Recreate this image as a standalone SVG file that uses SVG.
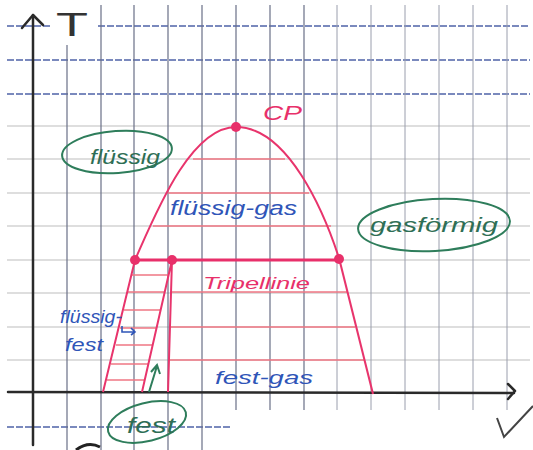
<svg xmlns="http://www.w3.org/2000/svg" width="533" height="450" viewBox="0 0 533 450">
<defs>
<style>
.gd{stroke:#4f63a8;stroke-width:1.3;stroke-dasharray:7 2;fill:none}
.gh{stroke:#bdbdbd;stroke-width:1.2;fill:none}
.gv{stroke:#6a7088;stroke-width:1.2;fill:none}
.gvl{stroke:#9a9ead;stroke-width:1;fill:none}
.ax{stroke:#2a2a2a;stroke-width:2.5;fill:none;stroke-linecap:round;stroke-linejoin:round}
.pc{stroke:#e8346c;stroke-width:2;fill:none}
.pt{stroke:#e8306a;stroke-width:3;fill:none}
.ph{stroke:#f07784;stroke-width:1.6;fill:none}
.dot{fill:#e8306a}
.gr{stroke:#2e7d5b;stroke-width:2;fill:none}
.tb{font-family:"Liberation Sans",Arial,sans-serif;font-style:italic;fill:#2f55b8}
.tg{font-family:"Liberation Sans",Arial,sans-serif;font-style:italic;fill:#2e6e55}
.tp{font-family:"Liberation Sans",Arial,sans-serif;font-style:italic;fill:#e8306a}
</style>
</defs>
<rect width="533" height="450" fill="#ffffff"/>
<g id="grid">
<path class="gd" d="M7,26H52M98,26H530M7,60H530M7,94H530M7,427H232"/>
<path class="gh" d="M7,126H530M7,159H530M7,193H530M7,226H530M7,260H530M7,293H530M7,327H530M7,360H530"/>
<path class="gv" d="M67,45V450M101,5V450M134,5V450M168,5V450M202,5V450M236,5V410M270,5V410M304,5V410"/>
<path class="gvl" d="M337,5V410M371,5V410M405,5V410M439,5V410M473,5V410M507,5V410"/>
</g>
<g id="axes">
<path class="ax" d="M33,15V445"/>
<path class="ax" d="M22,28L33,15L43,25"/>
<path class="ax" d="M8,392L514,393"/>
<path class="ax" d="M508,384L515,391L508,399"/>
<text x="56" y="36" font-family="Liberation Sans,Arial,sans-serif" font-size="34" fill="#333" textLength="32" lengthAdjust="spacingAndGlyphs">T</text>
</g>
<g id="phase-curves">
<path class="ph" d="M193,159H285M168,193H309M153,226H331"/>
<path class="ph" d="M170,292H347M170,327H355M170,360H364"/>
<path class="ph" d="M132,275H168M128,292H165M124,310H161M120,328H157M116,345H153M111,364H149M107,380H145"/>
<path class="pc" d="M135,260C155,215 190,127 236,127C288,127 324,212 339,258"/>
<path class="pc" d="M339,258L373,394"/>
<path class="pc" d="M135,260L103,392M172,260L142,392M172,260L168,392"/>
<path class="pt" d="M135,260H339"/>
<circle class="dot" cx="135" cy="260" r="5"/>
<circle class="dot" cx="172" cy="260" r="5"/>
<circle class="dot" cx="339" cy="259" r="5"/>
<circle class="dot" cx="236" cy="127" r="5"/>
</g>
<g id="node-fluessig">
<ellipse class="gr" cx="117" cy="152" rx="55" ry="21" transform="rotate(-4 117 152)"/>
<text class="tg" x="90" y="164" font-size="20" textLength="70" lengthAdjust="spacingAndGlyphs">flüssig</text>
</g>
<g id="node-gasfoermig">
<ellipse class="gr" cx="434" cy="225" rx="76" ry="26" transform="rotate(-3 434 225)"/>
<text class="tg" x="370" y="232" font-size="20" textLength="128" lengthAdjust="spacingAndGlyphs">gasförmig</text>
</g>
<g id="node-fest">
<ellipse class="gr" cx="147" cy="422" rx="40" ry="19" transform="rotate(-14 147 422)"/>
<text class="tg" x="127" y="433" font-size="22" textLength="48" lengthAdjust="spacingAndGlyphs">fest</text>
</g>
<g id="label-cp">
<text class="tp" x="263" y="120" font-size="20" fill="#d9558a" textLength="39" lengthAdjust="spacingAndGlyphs">CP</text>
</g>
<g id="label-fluessig-gas">
<text class="tb" x="170" y="215" font-size="20" textLength="127" lengthAdjust="spacingAndGlyphs">flüssig-gas</text>
</g>
<g id="label-tripellinie">
<text class="tp" x="203" y="289" font-size="16" textLength="107" lengthAdjust="spacingAndGlyphs">Tripellinie</text>
</g>
<g id="label-fest-gas">
<text class="tb" x="215" y="384" font-size="18" textLength="98" lengthAdjust="spacingAndGlyphs">fest-gas</text>
</g>
<g id="label-fluessig-fest">
<text class="tb" x="60" y="323" font-size="18" textLength="62" lengthAdjust="spacingAndGlyphs">flüssig-</text>
<text class="tb" x="65" y="351" font-size="18" textLength="38" lengthAdjust="spacingAndGlyphs">fest</text>
</g>
<g id="connectors">
<path d="M122,326V332H135M131,328L135,332L131,335" stroke="#2f55b8" stroke-width="1.6" fill="none"/>
<path d="M149,392L157,366M151,372L157,365L160,374" stroke="#2e7d5b" stroke-width="2" fill="none"/>
</g>
<g id="marks">
<path d="M497,418L504,437L533,406" stroke="#444" stroke-width="2" fill="none"/>
<path d="M76,450Q88,441 100,447" stroke="#222" stroke-width="3" fill="none"/>
</g>
</svg>
